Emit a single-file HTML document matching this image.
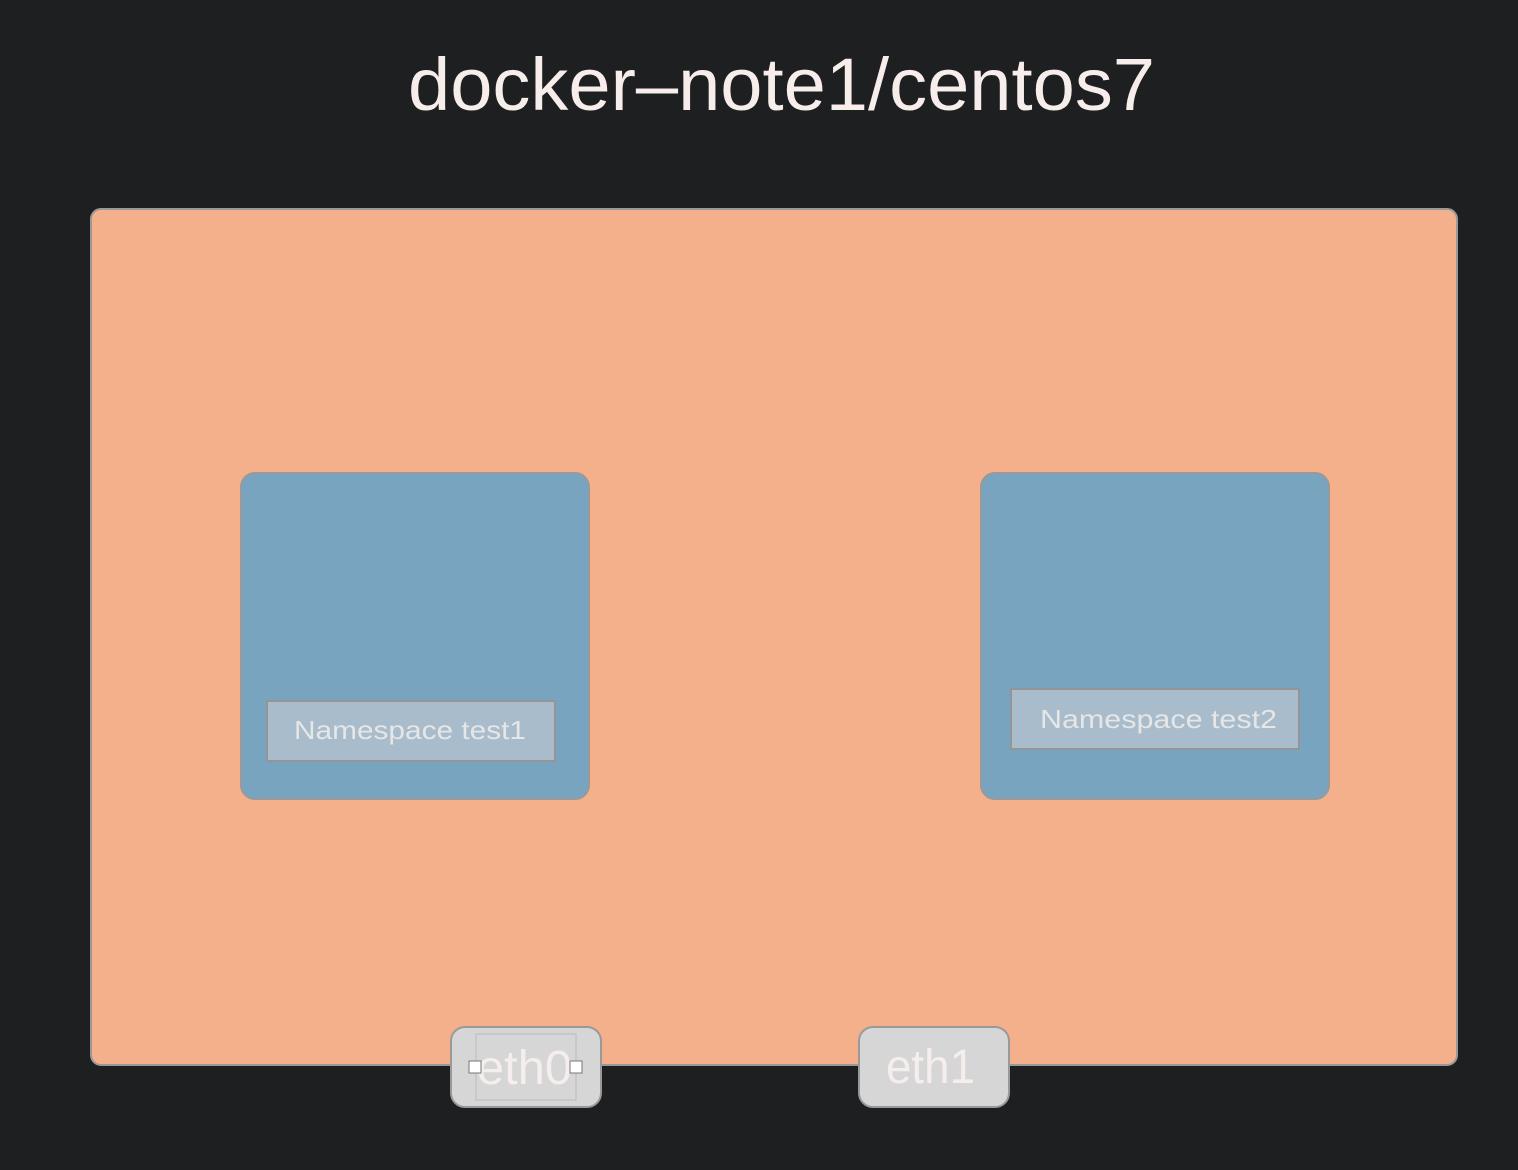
<!DOCTYPE html>
<html><head><meta charset="utf-8"><style>html,body{margin:0;padding:0;background:#1e1f21}svg{display:block}</style></head>
<body>
<svg width="1518" height="1170" viewBox="0 0 1518 1170" xmlns="http://www.w3.org/2000/svg" font-family="Liberation Sans, sans-serif">
<rect width="1518" height="1170" fill="#1e1f21"/>
<text x="408" y="110" font-size="74" fill="#f7eeec" textLength="747" lengthAdjust="spacingAndGlyphs">docker–note1/centos7</text>
<rect x="91" y="209" width="1366" height="856" rx="10" fill="#f3b08b" stroke="#999" stroke-width="2"/>
<rect x="241" y="473" width="348" height="326" rx="14" fill="#79a4bf" stroke="#999" stroke-width="2"/>
<rect x="267" y="701" width="288" height="60" fill="#a8bccb" stroke="#959595" stroke-width="2"/>
<text x="294" y="739" font-size="26" fill="#e6e6e6" textLength="232" lengthAdjust="spacingAndGlyphs">Namespace  test1</text>
<rect x="981" y="473" width="348" height="326" rx="14" fill="#79a4bf" stroke="#999" stroke-width="2"/>
<rect x="1011" y="689" width="288" height="60" fill="#a8bccb" stroke="#959595" stroke-width="2"/>
<text x="1040" y="728" font-size="26" fill="#e6e6e6" textLength="237" lengthAdjust="spacingAndGlyphs">Namespace  test2</text>
<rect x="451" y="1027" width="150" height="80" rx="14" fill="#d6d6d6" stroke="#999" stroke-width="2"/>
<rect x="476" y="1034" width="100" height="66" fill="none" stroke="#bbb" stroke-width="1"/>
<text x="477" y="1084" font-size="48" fill="#f5eeec" textLength="95" lengthAdjust="spacingAndGlyphs">eth0</text>
<rect x="469" y="1061" width="12" height="12" fill="#fff" stroke="#777"/>
<rect x="570" y="1061" width="12" height="12" fill="#fff" stroke="#777"/>
<rect x="859" y="1027" width="150" height="80" rx="14" fill="#d6d6d6" stroke="#999" stroke-width="2"/>
<text x="886" y="1083" font-size="48" fill="#f5eeec" textLength="89" lengthAdjust="spacingAndGlyphs">eth1</text>
</svg>
</body></html>
